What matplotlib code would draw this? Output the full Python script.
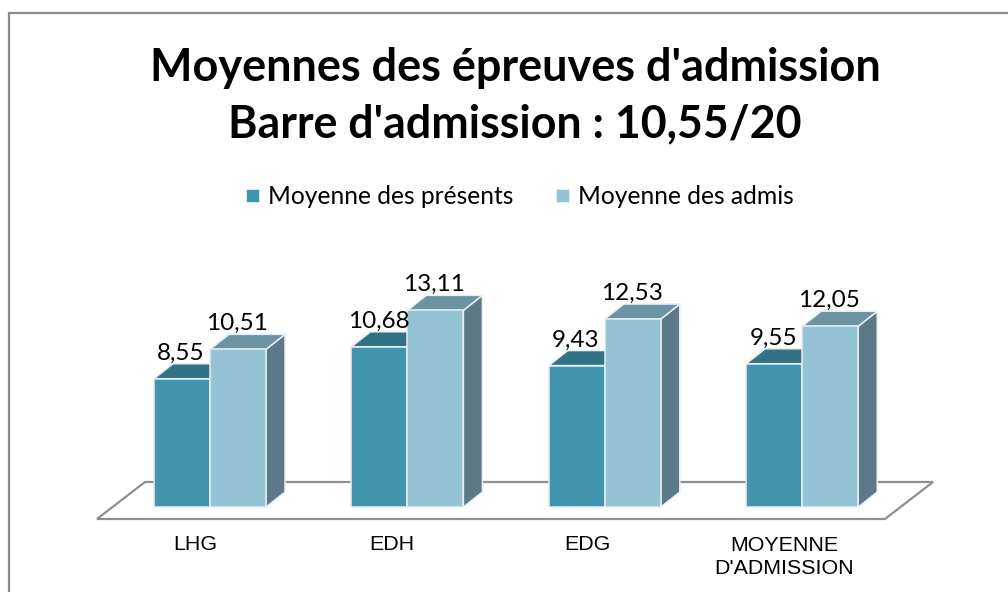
import matplotlib
matplotlib.use("Agg")
import matplotlib.pyplot as plt
from matplotlib.patches import Rectangle

categories = ["LHG", "EDH", "EDG", "MOYENNE\nD'ADMISSION"]
presents = [8.55, 10.68, 9.43, 9.55]
admis = [10.51, 13.11, 12.53, 12.05]
labels_presents = ["8,55", "10,68", "9,43", "9,55"]
labels_admis = ["10,51", "13,11", "12,53", "12,05"]

W, H = 1008, 592
PX_CAT = 197.4
PX_VAL = 15.0
X0, Y0 = 210.0, 507.0
bw = 56 / PX_CAT
dx, dy = 19 / PX_CAT, 15 / PX_VAL

fig = plt.figure(figsize=(W / 100, H / 100), dpi=100, facecolor="white")
ax = fig.add_axes([0, 0, 1, 1])
ax.set_xlim(-X0 / PX_CAT, (W - X0) / PX_CAT)
ax.set_ylim((Y0 - H) / PX_VAL, Y0 / PX_VAL)
ax.axis("off")


def xpx(p):
    return (p - X0) / PX_CAT


def ypx(p):
    return (Y0 - p) / PX_VAL


# outer frame: left and top edges only, the rest is cropped
ax.plot([xpx(9.5), xpx(9.5), xpx(1008)],
        [ypx(592), ypx(13.5), ypx(13.5)],
        color="#8c8c8c", lw=1.6, zorder=1, solid_joinstyle="miter")

# floor
ax.fill([xpx(97), xpx(885), xpx(933), xpx(145)],
        [ypx(519), ypx(519), ypx(482), ypx(482)],
        facecolor="white", edgecolor="#8f8f8f", lw=1.6, zorder=1)

FRONT = ["#4295AE", "#94C3D5"]
TOP = ["#327286", "#6C93A3"]
SIDE = ["#2F6B7E", "#5B7986"]
EDGE = "#e8eef1"


def bar3d(x, v, i):
    ax.fill([x + bw, x + bw + dx, x + bw + dx, x + bw],
            [0, dy, v + dy, v], facecolor=SIDE[i], edgecolor=EDGE, lw=1.1, zorder=2 + i)
    ax.fill([x, x + dx, x + bw + dx, x + bw],
            [v, v + dy, v + dy, v], facecolor=TOP[i], edgecolor=EDGE, lw=1.1, zorder=2 + i)
    ax.bar(x, v, width=bw, bottom=0, align="edge", color=FRONT[i],
           edgecolor=EDGE, lw=1.1, zorder=3 + i)


for k, (a, b) in enumerate(zip(presents, admis)):
    bar3d(k - bw, a, 0)
    bar3d(k, b, 1)
    ax.text(k - bw + 27 / PX_CAT, a + 25 / PX_VAL, labels_presents[k], ha="center", va="center",
            fontsize=17.5, family="Lato", color="black", zorder=6)
    ax.text(k + 27 / PX_CAT, b + 26 / PX_VAL, labels_admis[k], ha="center", va="center",
            fontsize=17.5, family="Lato", color="black", zorder=6)
    ax.text(xpx(195 + 196.4 * k), ypx(557 if k == 3 else 544), categories[k],
            ha="center", va="center", fontsize=15.4, family="Liberation Sans",
            color="black", linespacing=1.3, zorder=6)

# title
ax.text(xpx(515), ypx(68), "Moyennes des épreuves d'admission", ha="center", va="center",
        fontsize=32.4, fontweight="bold", family="Lato", color="black")
ax.text(xpx(515), ypx(124), "Barre d'admission : 10,55/20", ha="center", va="center",
        fontsize=32.2, fontweight="bold", family="Lato", color="black")

# legend
for px, c, name in [(246, FRONT[0], "Moyenne des présents"), (556, FRONT[1], "Moyenne des admis")]:
    ax.add_patch(Rectangle((xpx(px), ypx(202)), 13 / PX_CAT, 13 / PX_VAL,
                           facecolor=c, edgecolor=EDGE, lw=0.6, zorder=5))
    ax.text(xpx(px + 22), ypx(197), name, ha="left", va="center",
            fontsize=17.7, family="Lato", color="black")

fig.savefig("out.png", dpi=100)
